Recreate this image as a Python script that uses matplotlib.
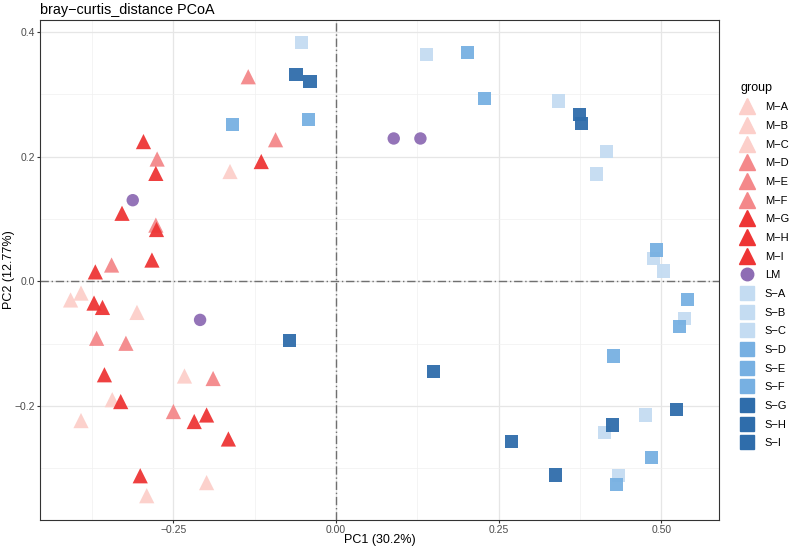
import matplotlib.pyplot as plt
from matplotlib.lines import Line2D

plt.rcParams["font.family"] = ["Liberation Sans", "DejaVu Sans"]

# PCoA scores, one list per group
groups = ["M-A", "M-B", "M-C", "M-D", "M-E", "M-F", "M-G", "M-H", "M-I", "LM",
          "S-A", "S-B", "S-C", "S-D", "S-E", "S-F", "S-G", "S-H", "S-I"]

pc1 = {
    "M-A": [-0.163, -0.408, -0.392],
    "M-B": [-0.306, -0.233, -0.344],
    "M-C": [-0.392, -0.199, -0.291],
    "M-D": [-0.135, -0.093, -0.275],
    "M-E": [-0.277, -0.345, -0.368],
    "M-F": [-0.323, -0.189, -0.250],
    "M-G": [-0.115, -0.296, -0.277, -0.329, -0.276],
    "M-H": [-0.283, -0.370, -0.372, -0.359, -0.356],
    "M-I": [-0.331, -0.218, -0.199, -0.1655, -0.301],
    "LM": [-0.3125, -0.209, 0.0886, 0.1296],
    "S-A": [-0.053, 0.139, 0.342, 0.415],
    "S-B": [0.400, 0.488, 0.503, 0.535],
    "S-C": [0.476, 0.4125, 0.434],
    "S-D": [-0.042, -0.159, 0.202, 0.2285],
    "S-E": [0.492, 0.5405, 0.528],
    "S-F": [0.426, 0.485, 0.431],
    "S-G": [-0.0615, -0.040, 0.374, 0.3775],
    "S-H": [-0.0717, 0.1496, 0.5236],
    "S-I": [0.425, 0.269, 0.3366],
}
pc2 = {
    "M-A": [0.176, -0.030, -0.019],
    "M-B": [-0.050, -0.152, -0.190],
    "M-C": [-0.2235, -0.323, -0.344],
    "M-D": [0.328, 0.227, 0.196],
    "M-E": [0.090, 0.026, -0.0915],
    "M-F": [-0.0995, -0.156, -0.209],
    "M-G": [0.192, 0.224, 0.173, 0.109, 0.083],
    "M-H": [0.034, 0.015, -0.035, -0.042, -0.150],
    "M-I": [-0.193, -0.225, -0.2145, -0.253, -0.312],
    "LM": [0.130, -0.062, 0.229, 0.229],
    "S-A": [0.383, 0.364, 0.289, 0.208],
    "S-B": [0.172, 0.037, 0.0165, -0.0595],
    "S-C": [-0.2145, -0.243, -0.312],
    "S-D": [0.260, 0.251, 0.367, 0.293],
    "S-E": [0.050, -0.029, -0.073],
    "S-F": [-0.120, -0.283, -0.3257],
    "S-G": [0.331, 0.320, 0.268, 0.253],
    "S-H": [-0.095, -0.145, -0.2053],
    "S-I": [-0.2305, -0.257, -0.3107],
}

colors = {}
markers = {}
for g in groups:
    if g.startswith("M-"):
        markers[g] = "^"
        colors[g] = {"A": "#fccfca", "B": "#fccfca", "C": "#fccfca",
                     "D": "#f4888a", "E": "#f4888a", "F": "#f4888a"}.get(g[-1], "#ee3535")
    elif g == "LM":
        markers[g] = "o"
        colors[g] = "#8e6db4"
    else:
        markers[g] = "s"
        colors[g] = {"A": "#c4dcf2", "B": "#c4dcf2", "C": "#c4dcf2",
                     "D": "#77b0e2", "E": "#77b0e2", "F": "#77b0e2"}.get(g[-1], "#2f6dab")
sizes = {"^": 120, "o": 80, "s": 90}

fig = plt.figure(figsize=(7.91, 5.5), dpi=100)
ax = fig.add_axes([0.051, 0.0545, 0.8576, 0.9091])

for g in groups:
    ax.scatter(pc1[g], pc2[g], marker=markers[g], s=sizes[markers[g]],
               color=colors[g], edgecolors="none", alpha=0.95, zorder=3)

ax.axvline(0, color="#707070", lw=1.0, ls=(0, (6, 2, 1, 2)), zorder=2)
ax.axhline(0, color="#707070", lw=1.0, ls=(0, (6, 2, 1, 2)), zorder=2)

ax.set_xlim(-0.4545, 0.588)
ax.set_ylim(-0.383, 0.419)
ax.set_xticks([-0.25, 0.0, 0.25, 0.50])
ax.set_xticklabels(["\u22120.25", "0.00", "0.25", "0.50"])
ax.set_yticks([-0.2, 0.0, 0.2, 0.4])
ax.set_yticklabels(["\u22120.2", "0.0", "0.2", "0.4"])
ax.set_xticks([-0.375, -0.125, 0.125, 0.375], minor=True)
ax.set_yticks([-0.3, -0.1, 0.1, 0.3], minor=True)
ax.grid(which="major", color="#e6e6e6", lw=0.9, zorder=0)
ax.grid(which="minor", color="#f0f0f0", lw=0.5, zorder=0)
ax.set_axisbelow(True)
ax.tick_params(which="major", length=2.5, color="#333333", labelsize=7.5,
               labelcolor="#4d4d4d", pad=1.0)
ax.tick_params(which="minor", length=0)
for sp in ax.spines.values():
    sp.set_color("#333333")
    sp.set_linewidth(0.8)

ax.set_xlabel("PC1 (30.2%)", fontsize=9)
ax.set_ylabel("PC2 (12.77%)", fontsize=9)
ax.xaxis.set_label_coords(0.5, -0.027)
ax.yaxis.set_label_coords(-0.038, 0.5)
ax.set_title("bray\u2212curtis_distance PCoA", fontsize=10.4, loc="left", pad=4)

handles = [Line2D([], [], ls="none", marker=markers[g], color=colors[g],
                  markersize={"^": 12, "o": 9, "s": 10}[markers[g]],
                  label=g.replace("-", "\u2212")) for g in groups]
leg = ax.legend(handles=handles, title="group", loc="upper left",
                bbox_to_anchor=(1.022, 0.89), frameon=False, fontsize=8,
                title_fontsize=9, labelspacing=0.78, handletextpad=1.0,
                handlelength=1.2, borderaxespad=0.2)
leg._legend_box.align = "left"

fig.savefig("out.png", dpi=100)
